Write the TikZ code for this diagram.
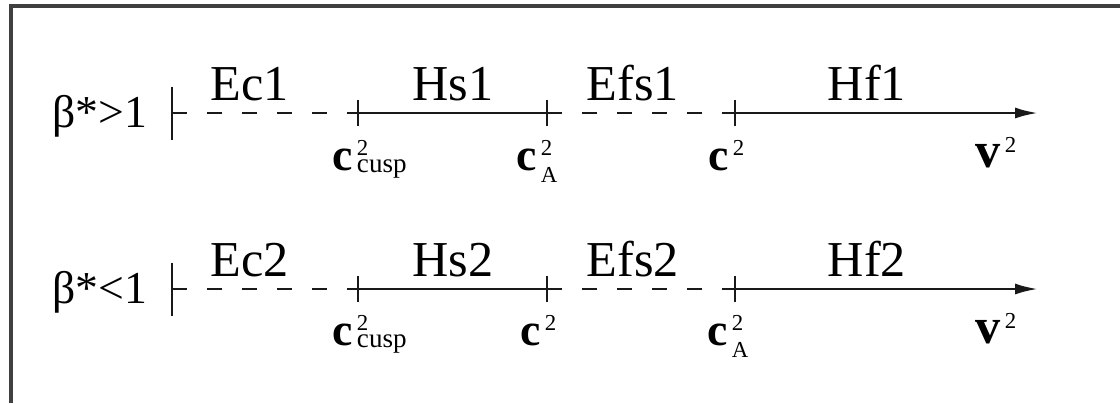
\documentclass[tikz,border=0pt]{standalone}
\usepackage{fontspec}
\setmainfont{Liberation Serif}
\usepackage{tikz}
\usetikzlibrary{arrows.meta, calc}
\tikzset{
    axisline/.style={line width=0.75pt, black!90},
    dashline/.style={axisline, dash pattern=on 1.5mm off 2mm},
    tickmark/.style={axisline},
    regionlabel/.style={anchor=base, inner sep=0pt, font=\fontsize{14.3}{17}\selectfont},
    pointlabel/.style={anchor=base west, inner sep=0pt, font=\fontsize{13}{15}\selectfont},
    caselabel/.style={anchor=base, inner sep=0pt, font=\fontsize{13}{15}\selectfont}
}
% bold letter squared, with subscript (text, size, drop)
\newcommand{\sqsp}[4]{\textbf{#1}\hspace{0.04cm}\rlap{\raisebox{0.15cm}{\fontsize{6.5}{7}\selectfont 2}}\raisebox{-#4}{\fontsize{#3}{#3}\selectfont #2}}

\begin{document}
\begin{tikzpicture}
    \useasboundingbox (0,0) rectangle (11.2,-4.03);
    % frame (top and left only)
    \draw[line width=1pt, black!75] (11.2,-0.06) -- (0.11,-0.06) -- (0.11,-4.03);

    % beta* > 1
    \coordinate (o1) at (1.72,-1.13);
    \coordinate (a1) at (3.58,-1.13);
    \coordinate (b1) at (5.47,-1.13);
    \coordinate (c1) at (7.35,-1.13);
    \coordinate (e1) at (10.38,-1.13);

    % beta* < 1
    \coordinate (o2) at (1.72,-2.89);
    \coordinate (a2) at (3.58,-2.89);
    \coordinate (b2) at (5.47,-2.89);
    \coordinate (c2) at (7.35,-2.89);
    \coordinate (e2) at (10.38,-2.89);

    % axes
    \foreach \r in {1,2} {
        \draw[tickmark] ($(o\r)+(0,0.265)$) -- ($(o\r)+(0,-0.265)$);
        \draw[dashline] (o\r) -- (a\r);
        \draw[axisline] (a\r) -- (b\r);
        \draw[dashline] (b\r) -- (c\r);
        \draw[axisline, -{Latex[length=2.3mm, width=1.1mm]}] (c\r) -- (e\r);
        \foreach \p in {a,b,c}
            \draw[tickmark] ($(\p\r)+(0,0.13)$) -- ($(\p\r)+(0,-0.13)$);
    }

    % labels, row 1
    \node[caselabel] (k1) at (1.00,-1.27) {β*>1};
    \node[regionlabel] (ec1) at (2.50,-1.00) {Ec1};
    \node[regionlabel] (hs1) at (4.53,-1.00) {Hs1};
    \node[regionlabel] (efs1) at (6.33,-1.00) {Efs1};
    \node[regionlabel] (hf1) at (8.67,-1.00) {Hf1};
    \node[pointlabel] (ta1) at (3.32,-1.70) {\sqsp{c}{cusp}{7.7}{0.02cm}};
    \node[pointlabel] (tb1) at (5.16,-1.70) {\sqsp{c}{A}{6.5}{0.12cm}};
    \node[pointlabel] (tc1) at (7.08,-1.70) {\sqsp{c}{}{6}{0cm}};
    \node[pointlabel, font=\fontsize{14.3}{17}\selectfont] (te1) at (9.75,-1.67) {\sqsp{v}{}{6}{0cm}};

    % labels, row 2
    \node[caselabel] (k2) at (1.00,-3.03) {β*<1};
    \node[regionlabel] (ec2) at (2.50,-2.76) {Ec2};
    \node[regionlabel] (hs2) at (4.53,-2.76) {Hs2};
    \node[regionlabel] (efs2) at (6.33,-2.76) {Efs2};
    \node[regionlabel] (hf2) at (8.67,-2.76) {Hf2};
    \node[pointlabel] (ta2) at (3.32,-3.45) {\sqsp{c}{cusp}{7.7}{0.02cm}};
    \node[pointlabel] (tb2) at (5.20,-3.45) {\sqsp{c}{}{6}{0cm}};
    \node[pointlabel] (tc2) at (7.07,-3.45) {\sqsp{c}{A}{6.5}{0.12cm}};
    \node[pointlabel, font=\fontsize{14.3}{17}\selectfont] (te2) at (9.75,-3.43) {\sqsp{v}{}{6}{0cm}};
\end{tikzpicture}
\end{document}
